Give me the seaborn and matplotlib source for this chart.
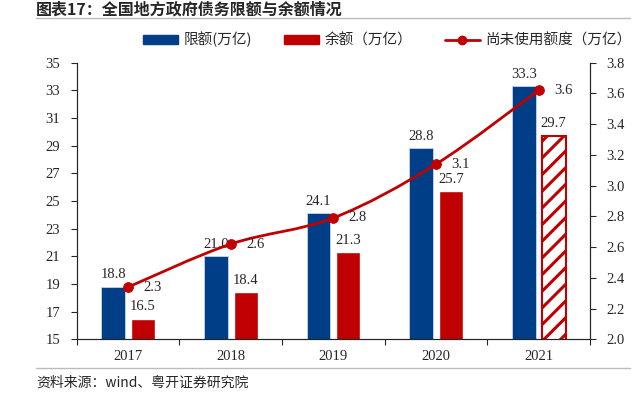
import matplotlib
matplotlib.use("Agg")
import matplotlib.pyplot as plt
from matplotlib.patches import Patch
from matplotlib.lines import Line2D
from matplotlib.path import Path
from matplotlib.patches import PathPatch
import seaborn as sns
import pandas as pd
import numpy as np

# data
years = ["2017", "2018", "2019", "2020", "2021"]
limit = [18.8, 21.0, 24.1, 28.8, 33.3]      # 限额
balance = [16.5, 18.4, 21.3, 25.7, 29.7]    # 余额
unused = [2.34, 2.62, 2.79, 3.14, 3.62]     # 尚未使用额度

blue = "#003F87"
red = "#C00000"
cjk = ["Noto Sans CJK SC", "DejaVu Sans"]
serif = ["Liberation Serif", "Noto Sans CJK SC"]

sns.set_style("ticks")
plt.rcParams["font.family"] = serif
plt.rcParams["hatch.linewidth"] = 2.2
plt.rcParams["hatch.color"] = red

df = pd.DataFrame({
    "year": years * 2,
    "series": ["限额"] * len(years) + ["余额"] * len(years),
    "value": limit + balance,
})

fig = plt.figure(figsize=(6.4, 3.96), dpi=100)
ax = fig.add_axes([0.120, 0.143, 0.802, 0.699])

sns.barplot(data=df, x="year", y="value", hue="series", palette=[blue, red],
            width=0.58, gap=0.2, ax=ax, legend=False, saturation=1)

for bar in ax.containers[0]:
    bar.set_edgecolor("#c8d4e6")
    bar.set_linewidth(0.6)

# 2021 balance bar is hatched
last = ax.containers[1][len(years) - 1]
last.set_facecolor("white")
last.set_edgecolor(red)
last.set_hatch("//")
last.set_linewidth(1.5)

ax.bar_label(ax.containers[0], labels=[f"{v:.1f}" for v in limit], padding=4, fontsize=10.5)
ax.bar_label(ax.containers[1], labels=[f"{v:.1f}" for v in balance], padding=4, fontsize=10.5)

ax.set_ylim(15, 35)
ax.set_yticks(np.arange(15, 36, 2))
ax.set_xlim(-0.5, len(years) - 0.5)
ax.set_xticks(np.arange(-0.5, len(years) + 0.5, 1))
ax.set_xticklabels([])
ax.set_xticks(np.arange(len(years)), labels=years, minor=True)
ax.tick_params(axis="x", which="minor", length=0, pad=8, labelsize=10.5)
ax.tick_params(axis="x", which="major", length=4, width=0.8, direction="out")
ax.tick_params(axis="y", length=4, width=0.8, direction="out", labelsize=10.5, pad=8)
ax.set_xlabel("")
ax.set_ylabel("")
ax.spines["top"].set_visible(False)

# right axis with smoothed line
ax2 = ax.twinx()
ax2.set_ylim(2.0, 3.8)
ax2.set_yticks(np.arange(2.0, 3.81, 0.2))
ax2.set_yticklabels([f"{t:.1f}" for t in np.arange(2.0, 3.81, 0.2)])
ax2.tick_params(axis="y", length=4, width=0.8, direction="out", labelsize=10.5, pad=8)
ax2.spines["top"].set_visible(False)

xs = np.arange(len(years), dtype=float)
ys = np.array(unused)
pts = np.column_stack([xs, ys])
verts = [tuple(pts[0])]
codes = [Path.MOVETO]
for i in range(len(pts) - 1):
    p_prev = pts[i - 1] if i > 0 else pts[i]
    p_next2 = pts[i + 2] if i + 2 < len(pts) else pts[i + 1]
    c1 = pts[i] + (pts[i + 1] - p_prev) / 6
    c2 = pts[i + 1] - (p_next2 - pts[i]) / 6
    verts += [tuple(c1), tuple(c2), tuple(pts[i + 1])]
    codes += [Path.CURVE4] * 3
ax2.add_patch(PathPatch(Path(verts, codes), facecolor="none", edgecolor=red, lw=2, zorder=3))
sns.scatterplot(x=xs, y=ys, color=red, s=50, edgecolor=red, ax=ax2, zorder=4, legend=False)
for x, y in zip(xs, ys):
    ax2.annotate(f"{y:.1f}", (x, y), xytext=(11, 0), textcoords="offset points",
                 ha="left", va="center", fontsize=10.5)

# legend
handles = [
    Patch(facecolor=blue, edgecolor=blue),
    Patch(facecolor=red, edgecolor=red),
    Line2D([0], [0], color=red, lw=2, marker="o", markersize=6),
]
labels = ["限额(万亿)", "余额（万亿）", "尚未使用额度（万亿）"]
fig.legend(handles, labels, loc="center", bbox_to_anchor=(0.605, 0.9), ncol=3,
           frameon=False, prop={"family": cjk, "size": 10.5}, handlelength=2.4,
           handleheight=0.6, columnspacing=2.2, handletextpad=0.4)

# title and source
fig.text(36 / 640, 1 - 1.5 / 396, "图表17：全国地方政府债务限额与余额情况", family=cjk,
         fontsize=11.5, weight="bold", va="top", ha="left")
fig.add_artist(Line2D([36 / 640, 630 / 640], [1 - 18 / 396, 1 - 18 / 396], color="#bbbbbb", lw=1))
fig.add_artist(Line2D([36 / 640, 630 / 640], [1 - 368 / 396, 1 - 368 / 396], color="#bbbbbb", lw=1))
fig.text(36 / 640, 1 - 383 / 396, "资料来源：wind、粤开证券研究院", family=cjk,
         fontsize=10, style="italic", va="center", ha="left")

fig.savefig("out.png", dpi=100)
